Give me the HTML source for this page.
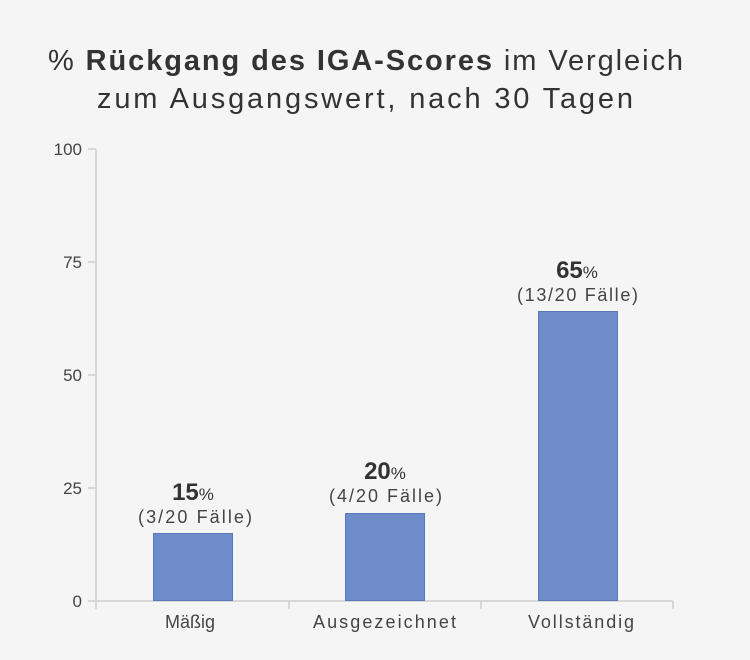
<!DOCTYPE html>
<html><head><meta charset="utf-8"><style>
html,body{margin:0;padding:0;background:#f5f5f5;}
svg{display:block;font-family:"Liberation Sans",sans-serif;}
</style></head><body>
<svg width="750" height="660" xmlns="http://www.w3.org/2000/svg">
<rect width="750" height="660" fill="#f5f5f5"/>
<text x="48" y="70" font-size="29" fill="#333" textLength="635">% <tspan font-weight="bold">Rückgang des IGA-Scores</tspan> im Vergleich</text>
<text x="97" y="108" font-size="29" fill="#333" textLength="536">zum Ausgangswert, nach 30 Tagen</text>
<g stroke="#cfcfcf" stroke-width="1.5">
<line x1="96" y1="149" x2="96" y2="609"/>
<line x1="88" y1="601" x2="673" y2="601"/>
<line x1="88" y1="149" x2="96" y2="149"/>
<line x1="88" y1="262" x2="96" y2="262"/>
<line x1="88" y1="375" x2="96" y2="375"/>
<line x1="88" y1="488" x2="96" y2="488"/>
<line x1="289" y1="601" x2="289" y2="609"/>
<line x1="481" y1="601" x2="481" y2="609"/>
<line x1="673" y1="601" x2="673" y2="609"/>
</g>
<g font-size="17" fill="#444" text-anchor="end">
<text x="82" y="155">100</text><text x="82" y="268">75</text><text x="82" y="381">50</text><text x="82" y="494">25</text><text x="82" y="607">0</text>
</g>
<g fill="#6e8cc9" stroke="#5b78b8" stroke-width="1">
<rect x="153.5" y="533.5" width="79" height="67"/>
<rect x="345.5" y="513.5" width="79" height="87"/>
<rect x="538.5" y="311.5" width="79" height="289"/>
</g>
<g font-size="18" fill="#444">
<text x="190" y="628" text-anchor="middle">Mäßig</text><text x="313" y="628" textLength="143">Ausgezeichnet</text><text x="528" y="628" textLength="106">Vollständig</text>
</g>
<g fill="#333" text-anchor="middle">
<text x="193" y="500" font-size="24" font-weight="bold">15<tspan font-size="17" font-weight="normal">%</tspan></text>
<text x="385" y="479" font-size="24" font-weight="bold">20<tspan font-size="17" font-weight="normal">%</tspan></text>
<text x="577" y="278" font-size="24" font-weight="bold">65<tspan font-size="17" font-weight="normal">%</tspan></text>
</g>
<g font-size="18" fill="#444">
<text x="138" y="523" textLength="114">(3/20 Fälle)</text>
<text x="329" y="502" textLength="113">(4/20 Fälle)</text>
<text x="517" y="301" textLength="121">(13/20 Fälle)</text>
</g>
</svg>
</body></html>
